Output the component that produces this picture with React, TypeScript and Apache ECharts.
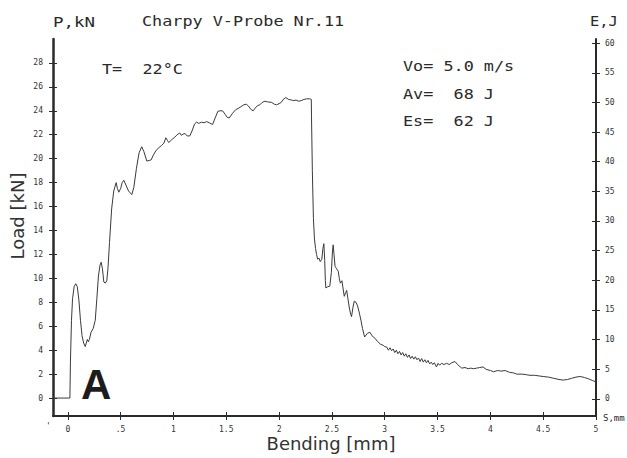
import React, { useEffect, useRef } from "react";
import * as echarts from "echarts";

// Load curve: bending [mm] vs load [kN]
const bendingMm: number[] = [
  -0.14, 0.02, 0.025, 0.035, 0.045, 0.06, 0.075, 0.09, 0.105, 0.12, 0.135, 0.15, 0.165, 0.175, 0.185, 0.195, 0.205, 0.22, 0.24, 0.26,
  0.275, 0.29, 0.305, 0.316, 0.328, 0.341, 0.355, 0.369, 0.38, 0.395, 0.415, 0.435, 0.458, 0.47, 0.483, 0.5, 0.515, 0.53, 0.55, 0.575,
  0.606, 0.625, 0.65, 0.675, 0.7, 0.72, 0.748, 0.77, 0.789, 0.81, 0.836, 0.86, 0.887, 0.91, 0.928, 0.945, 0.956, 0.985, 1.013, 1.035,
  1.06, 1.075, 1.09, 1.11, 1.13, 1.155, 1.18, 1.2, 1.219, 1.24, 1.266, 1.29, 1.313, 1.34, 1.37, 1.395, 1.42, 1.44, 1.465, 1.49,
  1.51, 1.528, 1.56, 1.59, 1.613, 1.64, 1.665, 1.69, 1.71, 1.735, 1.755, 1.78, 1.8, 1.818, 1.84, 1.866, 1.89, 1.93, 1.955, 1.976,
  2.0, 2.02, 2.045, 2.064, 2.09, 2.118, 2.14, 2.16, 2.185, 2.21, 2.235, 2.26, 2.29, 2.305, 2.307, 2.315, 2.325, 2.335, 2.345, 2.355,
  2.365, 2.377, 2.39, 2.405, 2.415, 2.424, 2.432, 2.438, 2.443, 2.46, 2.48, 2.495, 2.505, 2.512, 2.52, 2.53, 2.545, 2.56, 2.57, 2.58,
  2.595, 2.605, 2.617, 2.63, 2.64, 2.652, 2.664, 2.675, 2.686, 2.7, 2.712, 2.728, 2.743, 2.76, 2.775, 2.79, 2.81, 2.835, 2.86, 2.88,
  2.907, 2.93, 2.96, 2.986, 3.0, 3.02, 3.035, 3.05, 3.065, 3.08, 3.095, 3.11, 3.125, 3.14, 3.155, 3.17, 3.185, 3.2, 3.215, 3.23,
  3.245, 3.26, 3.275, 3.29, 3.305, 3.32, 3.335, 3.35, 3.365, 3.38, 3.395, 3.41, 3.425, 3.44, 3.455, 3.47, 3.49, 3.505, 3.52, 3.54,
  3.56, 3.585, 3.61, 3.635, 3.665, 3.69, 3.715, 3.73, 3.76, 3.79, 3.815, 3.84, 3.87, 3.9, 3.93, 3.96, 4.0, 4.03, 4.07, 4.1,
  4.14, 4.18, 4.22, 4.25, 4.3, 4.34, 4.375, 4.42, 4.46, 4.5, 4.55, 4.6, 4.65, 4.69, 4.73, 4.77, 4.81, 4.85, 4.89, 4.93,
  4.97, 5.0,
];
const loadKn: number[] = [
  0, 0, 3, 6.5, 8.3, 9.3, 9.55, 9.3, 8.2, 6.5, 5.2, 4.6, 4.3, 4.6, 4.9, 4.7, 4.9, 5.5, 5.8, 6.5,
  8.3, 10.2, 11.1, 11.35, 10.8, 9.7, 9.6, 9.8, 10.8, 13.0, 15.8, 17.3, 18.0, 17.5, 17.2, 17.5, 18.0, 18.2, 17.8, 17.3,
  17.0, 17.6, 19.2, 20.5, 21.0, 20.6, 19.8, 19.85, 19.9, 20.3, 20.7, 20.9, 21.1, 21.3, 21.75, 21.5, 21.35, 21.6, 21.8, 22.0,
  22.15, 21.95, 22.05, 22.1, 21.9, 21.9, 22.4, 22.9, 23.05, 22.95, 23.05, 23.0, 23.1, 23.0, 22.85, 23.4, 23.95, 24.0, 24.0, 23.7,
  23.45, 23.4, 23.8, 24.1, 24.2, 24.35, 24.5, 24.55, 24.4, 24.1, 24.0, 24.3, 24.45, 24.5, 24.7, 24.8, 24.75, 24.7, 24.55, 24.5,
  24.6, 24.7, 25.0, 25.1, 24.95, 24.9, 24.85, 24.9, 24.8, 24.85, 24.95, 25.0, 25.0, 24.95, 23.5, 19.0, 15.0, 13.3, 12.5, 12.0,
  11.6, 11.7, 11.4, 11.6, 12.5, 12.9, 11.5, 9.8, 9.2, 9.3, 9.35, 10.5, 12.2, 12.8, 12.0, 11.0, 10.8, 10.6, 10.0, 9.6,
  9.8, 9.2, 8.5, 8.8, 9.0, 8.3, 7.6, 7.1, 6.8, 7.6, 8.1, 8.0, 7.7, 7.1, 6.5, 5.8, 5.1, 5.4, 5.5, 5.2,
  5.0, 4.75, 4.5, 4.4, 4.3, 4.25, 4.0, 4.2, 3.95, 4.1, 3.8, 4.0, 3.7, 3.9, 3.6, 3.8, 3.5, 3.7, 3.4, 3.6,
  3.3, 3.5, 3.25, 3.45, 3.2, 3.35, 3.05, 3.3, 3.0, 3.2, 2.95, 3.15, 2.85, 3.0, 2.8, 2.95, 2.6, 2.9, 2.75, 2.9,
  2.8, 2.9, 2.8, 2.95, 3.05, 2.8, 2.6, 2.5, 2.55, 2.45, 2.5, 2.45, 2.5, 2.55, 2.6, 2.4, 2.3, 2.2, 2.3, 2.25,
  2.3, 2.15, 2.1, 2.0, 2.0, 1.95, 1.9, 1.9, 1.85, 1.8, 1.75, 1.65, 1.55, 1.5, 1.55, 1.65, 1.75, 1.8, 1.72, 1.6,
  1.45, 1.35,
];

const xTickValues: number[] = [0, 0.5, 1, 1.5, 2, 2.5, 3, 3.5, 4, 4.5, 5];
const xTickLabels: string[] = ["0", ".5", "1", "1.5", "2", "2.5", "3", "3.5", "4", "4.5", "5"];
const loadTickValues: number[] = [0, 2, 4, 6, 8, 10, 12, 14, 16, 18, 20, 22, 24, 26, 28];
const energyTickValues: number[] = [0, 5, 10, 15, 20, 25, 30, 35, 40, 45, 50, 55, 60];

const MONO = "'DejaVu Sans Mono', 'Liberation Mono', monospace";
const SANS = "'DejaVu Sans', Verdana, sans-serif";
const INK = "#2a2a2a";

export default function App() {
  const ref = useRef<HTMLDivElement>(null);

  useEffect(() => {
    if (!ref.current) return;
    const chart = echarts.init(ref.current, undefined, { renderer: "svg" });

    const data = bendingMm.map((x, i) => [x, loadKn[i]]);
    const xLabel = (v: number) => {
      const i = xTickValues.findIndex((t) => Math.abs(t - v) < 1e-6);
      return i >= 0 ? xTickLabels[i] : "";
    };
    const smallLabel = { fontFamily: MONO, fontSize: 8, color: "#333" };

    const textEl = (text: string, x: number, y: number, opts: any = {}) => ({
      type: "text",
      x,
      y,
      scaleX: opts.scaleX ?? 1,
      rotation: opts.rotation ?? 0,
      silent: true,
      style: {
        text,
        fill: opts.fill ?? INK,
        fontFamily: opts.fontFamily ?? MONO,
        fontSize: opts.fontSize ?? 14,
        fontWeight: opts.fontWeight ?? "normal",
        align: opts.align ?? "left",
        textAlign: opts.align ?? "left",
        verticalAlign: "middle",
        textVerticalAlign: "middle",
      },
    });

    const option: any = {
      animation: false,
      backgroundColor: "#ffffff",
      grid: { left: 53, right: 31, top: 39, bottom: 42, containLabel: false },
      xAxis: [
        {
          type: "value",
          min: -0.14,
          max: 5,
          position: "bottom",
          axisLine: { show: true, onZero: false, lineStyle: { color: INK, width: 2 } },
          axisTick: { show: true, length: 4, customValues: xTickValues, lineStyle: { color: INK, width: 1 } },
          axisLabel: { ...smallLabel, margin: 9, customValues: xTickValues, formatter: xLabel },
          splitLine: { show: false },
        },
        {
          type: "value",
          min: -0.14,
          max: 5,
          position: "bottom",
          axisLine: { show: false, onZero: false },
          axisTick: { show: true, inside: true, length: 4, customValues: xTickValues, lineStyle: { color: INK, width: 1 } },
          axisLabel: { show: false },
          splitLine: { show: false },
        },
      ],
      yAxis: [
        {
          type: "value",
          min: -1.5,
          max: 30,
          position: "left",
          axisLine: { show: true, onZero: false, lineStyle: { color: INK, width: 2.5 } },
          axisTick: { show: true, length: 4, customValues: loadTickValues, lineStyle: { color: INK, width: 1 } },
          axisLabel: { ...smallLabel, margin: 10, customValues: loadTickValues },
          splitLine: { show: false },
        },
        {
          type: "value",
          min: -1.5,
          max: 30,
          position: "left",
          axisLine: { show: false, onZero: false },
          axisTick: { show: true, inside: true, length: 4, customValues: loadTickValues, lineStyle: { color: INK, width: 1 } },
          axisLabel: { show: false },
          splitLine: { show: false },
        },
        {
          type: "value",
          min: -2.9,
          max: 60.7,
          position: "right",
          axisLine: { show: true, onZero: false, lineStyle: { color: INK, width: 2 } },
          axisTick: { show: true, length: 4, customValues: energyTickValues, lineStyle: { color: INK, width: 1 } },
          axisLabel: { ...smallLabel, margin: 9, customValues: energyTickValues },
          splitLine: { show: false },
        },
        {
          type: "value",
          min: -2.9,
          max: 60.7,
          position: "right",
          axisLine: { show: false, onZero: false },
          axisTick: { show: true, inside: true, length: 4, customValues: energyTickValues, lineStyle: { color: INK, width: 1 } },
          axisLabel: { show: false },
          splitLine: { show: false },
        },
      ],
      series: [
        {
          type: "line",
          xAxisIndex: 0,
          yAxisIndex: 0,
          data,
          showSymbol: false,
          symbol: "none",
          smooth: false,
          lineStyle: { color: "#3a3a3a", width: 1 },
          z: 3,
        },
      ],
      graphic: [
        textEl("P,kN", 53, 22, { scaleX: 1.25 }),
        textEl("Charpy V-Probe Nr.11", 142, 21, { scaleX: 1.2 }),
        textEl("E,J", 590, 21, { scaleX: 1.1 }),
        textEl("T=  22°C", 102, 69, { scaleX: 1.2 }),
        textEl("Vo= 5.0 m/s", 403, 66, { scaleX: 1.2 }),
        textEl("Av=  68 J", 403, 94, { scaleX: 1.2 }),
        textEl("Es=  62 J", 403, 121, { scaleX: 1.2 }),
        textEl("S,mm", 603, 418, { fontSize: 9 }),
        textEl("'", 46, 426, { fontSize: 8 }),
        textEl("A", 81, 384, { fontFamily: "'Liberation Sans', Arial, sans-serif", fontSize: 42, fontWeight: "bold", fill: "#1c1c1c" }),
        textEl("Bending [mm]", 331, 443, { fontFamily: SANS, fontSize: 18, align: "center", fill: "#333" }),
        textEl("Load [kN]", 17, 216, { fontFamily: SANS, fontSize: 18, align: "center", rotation: Math.PI / 2, fill: "#333" }),
      ],
    };

    chart.setOption(option);
    return () => chart.dispose();
  }, []);

  return (
    <div
      ref={ref}
      style={{ position: "fixed", left: 0, top: 0, width: 627, height: 458, background: "#fff" }}
    />
  );
}
